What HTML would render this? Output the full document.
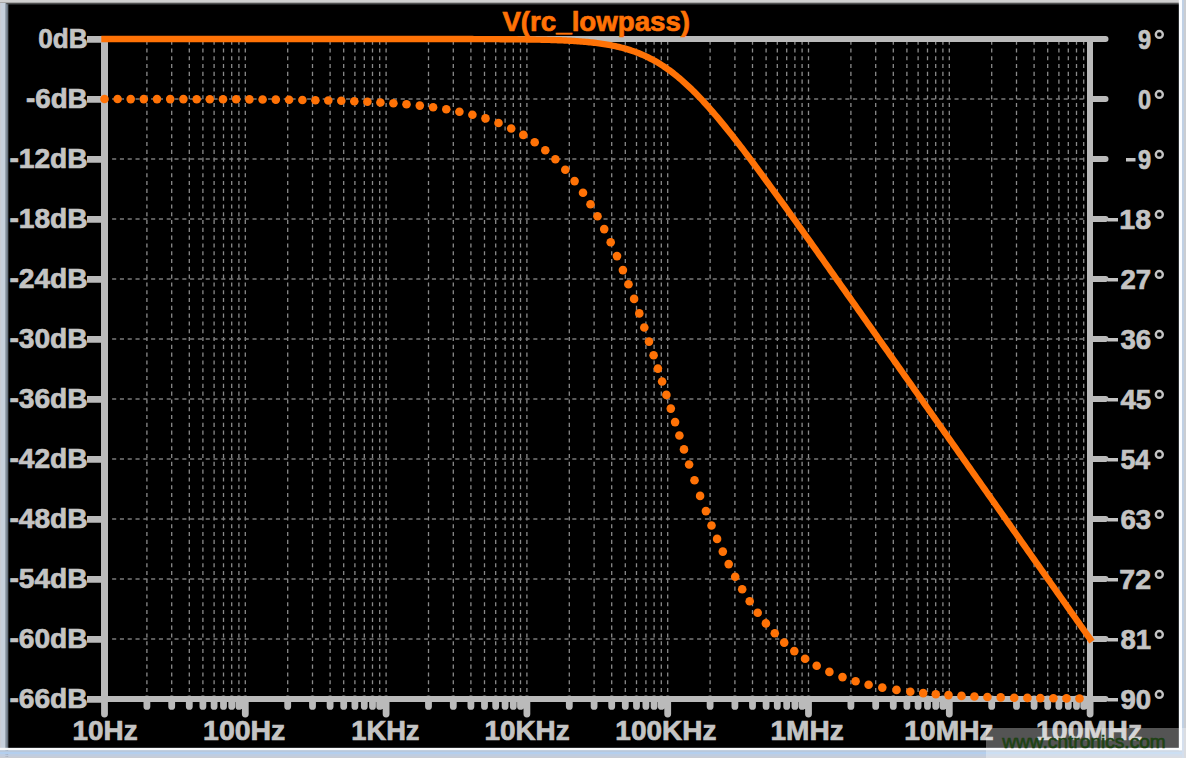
<!DOCTYPE html>
<html><head><meta charset="utf-8"><style>html,body{margin:0;padding:0;width:1186px;height:758px;overflow:hidden;background:#000}</style></head>
<body><svg width="1186" height="758" viewBox="0 0 1186 758" style="position:absolute;left:0;top:0"><rect x="0" y="0" width="1186" height="758" fill="#c6d0dc"/><rect x="0" y="0" width="1.2" height="758" fill="#c8ccd4"/><rect x="5" y="0" width="1.3" height="758" fill="#9aa6b2"/><rect x="6.3" y="0" width="1.9" height="758" fill="#687480"/><rect x="0" y="0" width="1186" height="2" fill="#d0d0d0"/><rect x="0" y="2" width="1186" height="1" fill="#a8a8a8"/><rect x="6.3" y="3" width="1186" height="1.2" fill="#505050"/><rect x="0" y="747.8" width="1186" height="2.5" fill="#f8fafb"/><rect x="0" y="750.3" width="1186" height="1.7" fill="#b8c8dc"/><rect x="0" y="752" width="1186" height="2.5" fill="#b4cfee"/><rect x="0" y="754.5" width="1186" height="2" fill="#c0cce0"/><rect x="0" y="756.5" width="1186" height="1.5" fill="#c8ccd4"/><rect x="1178.8" y="0" width="3.2" height="750.3" fill="#fafcff"/><rect x="1182" y="0" width="2" height="758" fill="#c0d0e4"/><rect x="1184" y="0" width="2" height="758" fill="#cacdd2"/><rect x="8.2" y="4.2" width="1170.6" height="743.6" fill="#000"/><path d="M146.9 40.6V692.5 M171.7 40.6V692.5 M189.3 40.6V692.5 M202.9 40.6V692.5 M214.1 40.6V692.5 M223.5 40.6V692.5 M231.7 40.6V692.5 M238.9 40.6V692.5 M245.3 40.6V692.5 M287.7 40.6V692.5 M312.5 40.6V692.5 M330.1 40.6V692.5 M343.7 40.6V692.5 M354.9 40.6V692.5 M364.3 40.6V692.5 M372.5 40.6V692.5 M379.7 40.6V692.5 M386.1 40.6V692.5 M428.5 40.6V692.5 M453.3 40.6V692.5 M470.9 40.6V692.5 M484.5 40.6V692.5 M495.7 40.6V692.5 M505.1 40.6V692.5 M513.3 40.6V692.5 M520.5 40.6V692.5 M526.9 40.6V692.5 M569.3 40.6V692.5 M594.1 40.6V692.5 M611.7 40.6V692.5 M625.3 40.6V692.5 M636.5 40.6V692.5 M645.9 40.6V692.5 M654.1 40.6V692.5 M661.3 40.6V692.5 M667.7 40.6V692.5 M710.1 40.6V692.5 M734.9 40.6V692.5 M752.5 40.6V692.5 M766.1 40.6V692.5 M777.3 40.6V692.5 M786.7 40.6V692.5 M794.9 40.6V692.5 M802.1 40.6V692.5 M808.5 40.6V692.5 M850.9 40.6V692.5 M875.7 40.6V692.5 M893.3 40.6V692.5 M906.9 40.6V692.5 M918.1 40.6V692.5 M927.5 40.6V692.5 M935.7 40.6V692.5 M942.9 40.6V692.5 M949.3 40.6V692.5 M991.7 40.6V692.5 M1016.5 40.6V692.5 M1034.1 40.6V692.5 M1047.7 40.6V692.5 M1058.9 40.6V692.5 M1068.3 40.6V692.5 M1076.5 40.6V692.5 M1083.7 40.6V692.5" stroke="#8a8a8a" stroke-width="1.3" stroke-dasharray="4.1 3.7" fill="none"/><path d="M112.1 99.0H1087 M112.1 159.0H1087 M112.1 219.0H1087 M112.1 279.0H1087 M112.1 339.0H1087 M112.1 399.0H1087 M112.1 459.0H1087 M112.1 519.0H1087 M112.1 579.0H1087 M112.1 639.0H1087" stroke="#7a7a7a" stroke-width="1.3" stroke-dasharray="4.1 3.7" fill="none"/><path d="M104.5 36V702 M1090 36V702 M101 39H1093 M101 699H1093" stroke="#bababa" stroke-width="6" fill="none"/><path d="M104.5 36V702" stroke="#bababa" stroke-width="7" fill="none"/><path d="M1093 39.0H1105.5 M1093 99.0H1105.5 M1093 159.0H1105.5 M1093 219.0H1105.5 M1093 279.0H1105.5 M1093 339.0H1105.5 M1093 399.0H1105.5 M1093 459.0H1105.5 M1093 519.0H1105.5 M1093 579.0H1105.5 M1093 639.0H1105.5 M1093 699.0H1105.5" stroke="#bababa" stroke-width="6" stroke-linecap="round" fill="none"/><path d="M87 39.4H104 M87 99.4H104 M87 159.4H104 M87 219.4H104 M87 279.4H104 M87 339.4H104 M87 399.4H104 M87 459.4H104 M87 519.4H104 M87 579.4H104 M87 639.4H104 M87 699.4H104" stroke="#bababa" stroke-width="6.6" fill="none"/><path d="M104.5 699V714.1 M146.9 699V706.4 M171.7 699V706.4 M189.3 699V706.4 M202.9 699V706.4 M214.1 699V706.4 M223.5 699V706.4 M231.7 699V706.4 M238.9 699V706.4 M245.3 699V714.1 M287.7 699V706.4 M312.5 699V706.4 M330.1 699V706.4 M343.7 699V706.4 M354.9 699V706.4 M364.3 699V706.4 M372.5 699V706.4 M379.7 699V706.4 M386.1 699V714.1 M428.5 699V706.4 M453.3 699V706.4 M470.9 699V706.4 M484.5 699V706.4 M495.7 699V706.4 M505.1 699V706.4 M513.3 699V706.4 M520.5 699V706.4 M526.9 699V714.1 M569.3 699V706.4 M594.1 699V706.4 M611.7 699V706.4 M625.3 699V706.4 M636.5 699V706.4 M645.9 699V706.4 M654.1 699V706.4 M661.3 699V706.4 M667.7 699V714.1 M710.1 699V706.4 M734.9 699V706.4 M752.5 699V706.4 M766.1 699V706.4 M777.3 699V706.4 M786.7 699V706.4 M794.9 699V706.4 M802.1 699V706.4 M808.5 699V714.1 M850.9 699V706.4 M875.7 699V706.4 M893.3 699V706.4 M906.9 699V706.4 M918.1 699V706.4 M927.5 699V706.4 M935.7 699V706.4 M942.9 699V706.4 M949.3 699V714.1 M991.7 699V706.4 M1016.5 699V706.4 M1034.1 699V706.4 M1047.7 699V706.4 M1058.9 699V706.4 M1068.3 699V706.4 M1076.5 699V706.4 M1083.7 699V706.4 M1090.1 699V714.1" stroke="#bababa" stroke-width="6.8" stroke-linecap="round" fill="none"/><path d="M104.50 39.00 L106.14 39.00 L107.79 39.00 L109.43 39.00 L111.07 39.00 L112.71 39.00 L114.36 39.00 L116.00 39.00 L117.64 39.00 L119.28 39.00 L120.93 39.00 L122.57 39.00 L124.21 39.00 L125.85 39.00 L127.50 39.00 L129.14 39.00 L130.78 39.00 L132.43 39.00 L134.07 39.00 L135.71 39.00 L137.35 39.00 L139.00 39.00 L140.64 39.00 L142.28 39.00 L143.92 39.00 L145.57 39.00 L147.21 39.00 L148.85 39.00 L150.49 39.00 L152.14 39.00 L153.78 39.00 L155.42 39.00 L157.07 39.00 L158.71 39.00 L160.35 39.00 L161.99 39.00 L163.64 39.00 L165.28 39.00 L166.92 39.00 L168.56 39.00 L170.21 39.00 L171.85 39.00 L173.49 39.00 L175.13 39.00 L176.78 39.00 L178.42 39.00 L180.06 39.00 L181.71 39.00 L183.35 39.00 L184.99 39.00 L186.63 39.00 L188.28 39.00 L189.92 39.00 L191.56 39.00 L193.20 39.00 L194.85 39.00 L196.49 39.00 L198.13 39.00 L199.77 39.00 L201.42 39.00 L203.06 39.00 L204.70 39.00 L206.35 39.00 L207.99 39.00 L209.63 39.00 L211.27 39.00 L212.92 39.00 L214.56 39.00 L216.20 39.00 L217.84 39.00 L219.49 39.00 L221.13 39.00 L222.77 39.00 L224.41 39.00 L226.06 39.00 L227.70 39.00 L229.34 39.00 L230.99 39.00 L232.63 39.00 L234.27 39.00 L235.91 39.00 L237.56 39.00 L239.20 39.00 L240.84 39.00 L242.48 39.00 L244.13 39.00 L245.77 39.00 L247.41 39.00 L249.05 39.00 L250.70 39.00 L252.34 39.00 L253.98 39.00 L255.63 39.00 L257.27 39.00 L258.91 39.00 L260.55 39.00 L262.20 39.00 L263.84 39.00 L265.48 39.00 L267.12 39.00 L268.77 39.00 L270.41 39.00 L272.05 39.00 L273.69 39.00 L275.34 39.00 L276.98 39.00 L278.62 39.00 L280.27 39.00 L281.91 39.00 L283.55 39.00 L285.19 39.00 L286.84 39.00 L288.48 39.00 L290.12 39.00 L291.76 39.00 L293.41 39.00 L295.05 39.00 L296.69 39.00 L298.33 39.00 L299.98 39.00 L301.62 39.00 L303.26 39.00 L304.91 39.00 L306.55 39.00 L308.19 39.00 L309.83 39.00 L311.48 39.00 L313.12 39.00 L314.76 39.00 L316.40 39.00 L318.05 39.00 L319.69 39.00 L321.33 39.00 L322.97 39.00 L324.62 39.00 L326.26 39.00 L327.90 39.00 L329.55 39.00 L331.19 39.00 L332.83 39.00 L334.47 39.00 L336.12 39.00 L337.76 39.00 L339.40 39.00 L341.04 39.00 L342.69 39.00 L344.33 39.00 L345.97 39.00 L347.61 39.00 L349.26 39.00 L350.90 39.00 L352.54 39.00 L354.19 39.00 L355.83 39.00 L357.47 39.00 L359.11 39.00 L360.76 39.00 L362.40 39.00 L364.04 39.00 L365.68 39.00 L367.33 39.00 L368.97 39.00 L370.61 39.00 L372.25 39.00 L373.90 39.00 L375.54 39.00 L377.18 39.00 L378.83 39.00 L380.47 39.00 L382.11 39.00 L383.75 39.00 L385.40 39.00 L387.04 39.00 L388.68 39.00 L390.32 39.00 L391.97 39.01 L393.61 39.01 L395.25 39.01 L396.89 39.01 L398.54 39.01 L400.18 39.01 L401.82 39.01 L403.47 39.01 L405.11 39.01 L406.75 39.01 L408.39 39.01 L410.04 39.01 L411.68 39.01 L413.32 39.01 L414.96 39.01 L416.61 39.01 L418.25 39.01 L419.89 39.01 L421.53 39.01 L423.18 39.01 L424.82 39.02 L426.46 39.02 L428.11 39.02 L429.75 39.02 L431.39 39.02 L433.03 39.02 L434.68 39.02 L436.32 39.02 L437.96 39.02 L439.60 39.02 L441.25 39.03 L442.89 39.03 L444.53 39.03 L446.17 39.03 L447.82 39.03 L449.46 39.03 L451.10 39.04 L452.75 39.04 L454.39 39.04 L456.03 39.04 L457.67 39.05 L459.32 39.05 L460.96 39.05 L462.60 39.05 L464.24 39.06 L465.89 39.06 L467.53 39.06 L469.17 39.07 L470.81 39.07 L472.46 39.07 L474.10 39.08 L475.74 39.08 L477.39 39.09 L479.03 39.09 L480.67 39.10 L482.31 39.10 L483.96 39.11 L485.60 39.11 L487.24 39.12 L488.88 39.13 L490.53 39.13 L492.17 39.14 L493.81 39.15 L495.45 39.16 L497.10 39.16 L498.74 39.17 L500.38 39.18 L502.03 39.19 L503.67 39.20 L505.31 39.21 L506.95 39.23 L508.60 39.24 L510.24 39.25 L511.88 39.26 L513.52 39.28 L515.17 39.29 L516.81 39.31 L518.45 39.33 L520.09 39.35 L521.74 39.37 L523.38 39.39 L525.02 39.41 L526.67 39.43 L528.31 39.45 L529.95 39.48 L531.59 39.50 L533.24 39.53 L534.88 39.56 L536.52 39.59 L538.16 39.62 L539.81 39.66 L541.45 39.69 L543.09 39.73 L544.73 39.77 L546.38 39.81 L548.02 39.86 L549.66 39.90 L551.31 39.95 L552.95 40.01 L554.59 40.06 L556.23 40.12 L557.88 40.18 L559.52 40.24 L561.16 40.31 L562.80 40.38 L564.45 40.46 L566.09 40.54 L567.73 40.62 L569.37 40.71 L571.02 40.80 L572.66 40.90 L574.30 41.00 L575.95 41.11 L577.59 41.22 L579.23 41.34 L580.87 41.47 L582.52 41.60 L584.16 41.74 L585.80 41.88 L587.44 42.04 L589.09 42.20 L590.73 42.37 L592.37 42.55 L594.01 42.74 L595.66 42.93 L597.30 43.14 L598.94 43.36 L600.59 43.58 L602.23 43.82 L603.87 44.08 L605.51 44.34 L607.16 44.62 L608.80 44.91 L610.44 45.21 L612.08 45.53 L613.73 45.86 L615.37 46.21 L617.01 46.57 L618.65 46.96 L620.30 47.36 L621.94 47.77 L623.58 48.21 L625.23 48.67 L626.87 49.14 L628.51 49.64 L630.15 50.16 L631.80 50.69 L633.44 51.26 L635.08 51.84 L636.72 52.45 L638.37 53.09 L640.01 53.74 L641.65 54.43 L643.29 55.14 L644.94 55.88 L646.58 56.64 L648.22 57.44 L649.87 58.26 L651.51 59.11 L653.15 59.99 L654.79 60.90 L656.44 61.84 L658.08 62.81 L659.72 63.80 L661.36 64.84 L663.01 65.90 L664.65 66.99 L666.29 68.11 L667.93 69.27 L669.58 70.46 L671.22 71.67 L672.86 72.92 L674.51 74.20 L676.15 75.52 L677.79 76.86 L679.43 78.23 L681.08 79.63 L682.72 81.07 L684.36 82.53 L686.00 84.02 L687.65 85.54 L689.29 87.09 L690.93 88.66 L692.57 90.27 L694.22 91.90 L695.86 93.55 L697.50 95.24 L699.15 96.94 L700.79 98.67 L702.43 100.43 L704.07 102.21 L705.72 104.01 L707.36 105.83 L709.00 107.67 L710.64 109.53 L712.29 111.42 L713.93 113.32 L715.57 115.24 L717.21 117.18 L718.86 119.14 L720.50 121.11 L722.14 123.10 L723.79 125.10 L725.43 127.12 L727.07 129.15 L728.71 131.20 L730.36 133.26 L732.00 135.34 L733.64 137.42 L735.28 139.52 L736.93 141.63 L738.57 143.75 L740.21 145.87 L741.85 148.01 L743.50 150.16 L745.14 152.32 L746.78 154.49 L748.43 156.66 L750.07 158.84 L751.71 161.03 L753.35 163.23 L755.00 165.43 L756.64 167.64 L758.28 169.86 L759.92 172.08 L761.57 174.30 L763.21 176.54 L764.85 178.77 L766.49 181.02 L768.14 183.26 L769.78 185.51 L771.42 187.77 L773.07 190.03 L774.71 192.29 L776.35 194.56 L777.99 196.83 L779.64 199.10 L781.28 201.38 L782.92 203.66 L784.56 205.94 L786.21 208.22 L787.85 210.51 L789.49 212.80 L791.13 215.09 L792.78 217.39 L794.42 219.68 L796.06 221.98 L797.71 224.28 L799.35 226.58 L800.99 228.89 L802.63 231.19 L804.28 233.50 L805.92 235.80 L807.56 238.11 L809.20 240.42 L810.85 242.73 L812.49 245.05 L814.13 247.36 L815.77 249.67 L817.42 251.99 L819.06 254.31 L820.70 256.62 L822.35 258.94 L823.99 261.26 L825.63 263.58 L827.27 265.90 L828.92 268.22 L830.56 270.54 L832.20 272.87 L833.84 275.19 L835.49 277.51 L837.13 279.84 L838.77 282.16 L840.41 284.49 L842.06 286.81 L843.70 289.14 L845.34 291.46 L846.99 293.79 L848.63 296.12 L850.27 298.44 L851.91 300.77 L853.56 303.10 L855.20 305.43 L856.84 307.76 L858.48 310.08 L860.13 312.41 L861.77 314.74 L863.41 317.07 L865.05 319.40 L866.70 321.73 L868.34 324.06 L869.98 326.39 L871.63 328.72 L873.27 331.05 L874.91 333.38 L876.55 335.71 L878.20 338.04 L879.84 340.38 L881.48 342.71 L883.12 345.04 L884.77 347.37 L886.41 349.70 L888.05 352.03 L889.69 354.36 L891.34 356.70 L892.98 359.03 L894.62 361.36 L896.27 363.69 L897.91 366.02 L899.55 368.36 L901.19 370.69 L902.84 373.02 L904.48 375.35 L906.12 377.68 L907.76 380.02 L909.41 382.35 L911.05 384.68 L912.69 387.01 L914.33 389.35 L915.98 391.68 L917.62 394.01 L919.26 396.34 L920.91 398.68 L922.55 401.01 L924.19 403.34 L925.83 405.68 L927.48 408.01 L929.12 410.34 L930.76 412.67 L932.40 415.01 L934.05 417.34 L935.69 419.67 L937.33 422.01 L938.97 424.34 L940.62 426.67 L942.26 429.01 L943.90 431.34 L945.55 433.67 L947.19 436.00 L948.83 438.34 L950.47 440.67 L952.12 443.00 L953.76 445.34 L955.40 447.67 L957.04 450.00 L958.69 452.34 L960.33 454.67 L961.97 457.00 L963.61 459.34 L965.26 461.67 L966.90 464.00 L968.54 466.34 L970.19 468.67 L971.83 471.00 L973.47 473.34 L975.11 475.67 L976.76 478.00 L978.40 480.34 L980.04 482.67 L981.68 485.00 L983.33 487.33 L984.97 489.67 L986.61 492.00 L988.25 494.33 L989.90 496.67 L991.54 499.00 L993.18 501.33 L994.83 503.67 L996.47 506.00 L998.11 508.33 L999.75 510.67 L1001.40 513.00 L1003.04 515.33 L1004.68 517.67 L1006.32 520.00 L1007.97 522.33 L1009.61 524.67 L1011.25 527.00 L1012.89 529.33 L1014.54 531.67 L1016.18 534.00 L1017.82 536.33 L1019.47 538.67 L1021.11 541.00 L1022.75 543.33 L1024.39 545.67 L1026.04 548.00 L1027.68 550.33 L1029.32 552.67 L1030.96 555.00 L1032.61 557.33 L1034.25 559.67 L1035.89 562.00 L1037.53 564.33 L1039.18 566.67 L1040.82 569.00 L1042.46 571.33 L1044.11 573.67 L1045.75 576.00 L1047.39 578.33 L1049.03 580.67 L1050.68 583.00 L1052.32 585.33 L1053.96 587.67 L1055.60 590.00 L1057.25 592.33 L1058.89 594.67 L1060.53 597.00 L1062.17 599.33 L1063.82 601.67 L1065.46 604.00 L1067.10 606.33 L1068.75 608.67 L1070.39 611.00 L1072.03 613.33 L1073.67 615.67 L1075.32 618.00 L1076.96 620.33 L1078.60 622.67 L1080.24 625.00 L1081.89 627.33 L1083.53 629.67 L1085.17 632.00 L1086.81 634.33 L1088.46 636.67 L1090.10 639.00" stroke="#ff7206" stroke-width="6.4" fill="none" stroke-linecap="square" stroke-linejoin="round"/><g fill="#ff7206"><circle cx="104.5" cy="99.0" r="4.3"/><circle cx="117.6" cy="99.0" r="4.3"/><circle cx="130.7" cy="99.1" r="4.3"/><circle cx="143.8" cy="99.1" r="4.3"/><circle cx="157.0" cy="99.1" r="4.3"/><circle cx="170.2" cy="99.1" r="4.3"/><circle cx="183.4" cy="99.1" r="4.3"/><circle cx="196.7" cy="99.2" r="4.3"/><circle cx="209.8" cy="99.2" r="4.3"/><circle cx="223.0" cy="99.3" r="4.3"/><circle cx="236.2" cy="99.3" r="4.3"/><circle cx="249.4" cy="99.4" r="4.3"/><circle cx="262.6" cy="99.5" r="4.3"/><circle cx="275.8" cy="99.6" r="4.3"/><circle cx="289.1" cy="99.8" r="4.3"/><circle cx="302.4" cy="100.0" r="4.3"/><circle cx="315.4" cy="100.2" r="4.3"/><circle cx="328.3" cy="100.5" r="4.3"/><circle cx="341.3" cy="100.8" r="4.3"/><circle cx="354.3" cy="101.3" r="4.3"/><circle cx="367.4" cy="101.8" r="4.3"/><circle cx="380.4" cy="102.5" r="4.3"/><circle cx="393.4" cy="103.3" r="4.3"/><circle cx="406.5" cy="104.3" r="4.3"/><circle cx="419.8" cy="105.6" r="4.3"/><circle cx="433.1" cy="107.2" r="4.3"/><circle cx="446.3" cy="109.2" r="4.3"/><circle cx="459.4" cy="111.7" r="4.3"/><circle cx="472.4" cy="114.7" r="4.3"/><circle cx="485.5" cy="118.4" r="4.3"/><circle cx="498.5" cy="123.0" r="4.3"/><circle cx="511.2" cy="128.5" r="4.3"/><circle cx="523.3" cy="134.9" r="4.3"/><circle cx="534.7" cy="142.2" r="4.3"/><circle cx="545.3" cy="150.3" r="4.3"/><circle cx="555.4" cy="159.3" r="4.3"/><circle cx="565.3" cy="169.7" r="4.3"/><circle cx="574.6" cy="181.1" r="4.3"/><circle cx="583.0" cy="192.7" r="4.3"/><circle cx="590.5" cy="204.3" r="4.3"/><circle cx="597.5" cy="216.3" r="4.3"/><circle cx="604.2" cy="229.1" r="4.3"/><circle cx="610.7" cy="242.3" r="4.3"/><circle cx="617.0" cy="256.1" r="4.3"/><circle cx="622.9" cy="270.1" r="4.3"/><circle cx="628.5" cy="284.3" r="4.3"/><circle cx="634.1" cy="298.9" r="4.3"/><circle cx="639.3" cy="313.4" r="4.3"/><circle cx="644.3" cy="327.5" r="4.3"/><circle cx="649.0" cy="341.6" r="4.3"/><circle cx="653.6" cy="355.3" r="4.3"/><circle cx="657.9" cy="368.6" r="4.3"/><circle cx="662.1" cy="381.5" r="4.3"/><circle cx="666.4" cy="394.9" r="4.3"/><circle cx="670.8" cy="408.6" r="4.3"/><circle cx="675.1" cy="422.1" r="4.3"/><circle cx="679.4" cy="435.5" r="4.3"/><circle cx="684.0" cy="449.4" r="4.3"/><circle cx="689.1" cy="464.5" r="4.3"/><circle cx="694.5" cy="480.2" r="4.3"/><circle cx="700.1" cy="495.9" r="4.3"/><circle cx="705.9" cy="511.1" r="4.3"/><circle cx="711.5" cy="525.5" r="4.3"/><circle cx="717.1" cy="538.9" r="4.3"/><circle cx="722.8" cy="551.6" r="4.3"/><circle cx="728.7" cy="564.1" r="4.3"/><circle cx="735.2" cy="576.7" r="4.3"/><circle cx="742.2" cy="589.2" r="4.3"/><circle cx="749.7" cy="601.3" r="4.3"/><circle cx="757.7" cy="612.8" r="4.3"/><circle cx="765.9" cy="623.4" r="4.3"/><circle cx="774.8" cy="633.3" r="4.3"/><circle cx="784.2" cy="642.6" r="4.3"/><circle cx="794.3" cy="651.1" r="4.3"/><circle cx="805.1" cy="658.7" r="4.3"/><circle cx="816.7" cy="665.7" r="4.3"/><circle cx="829.4" cy="671.9" r="4.3"/><circle cx="842.5" cy="677.1" r="4.3"/><circle cx="855.6" cy="681.3" r="4.3"/><circle cx="868.6" cy="684.7" r="4.3"/><circle cx="882.3" cy="687.6" r="4.3"/><circle cx="896.5" cy="689.9" r="4.3"/><circle cx="910.3" cy="691.8" r="4.3"/><circle cx="923.2" cy="693.1" r="4.3"/><circle cx="935.8" cy="694.2" r="4.3"/><circle cx="948.5" cy="695.1" r="4.3"/><circle cx="961.5" cy="695.9" r="4.3"/><circle cx="974.4" cy="696.5" r="4.3"/><circle cx="987.4" cy="697.0" r="4.3"/><circle cx="1000.7" cy="697.4" r="4.3"/><circle cx="1014.2" cy="697.7" r="4.3"/><circle cx="1027.4" cy="697.9" r="4.3"/><circle cx="1040.3" cy="698.1" r="4.3"/><circle cx="1053.4" cy="698.3" r="4.3"/><circle cx="1066.5" cy="698.4" r="4.3"/><circle cx="1079.5" cy="698.5" r="4.3"/></g><g font-family="Liberation Sans, sans-serif" font-weight="bold" font-size="27" fill="#c4c4c4" stroke="#c4c4c4" stroke-width="0.7"><text x="38.20" y="48.40" textLength="49.38" lengthAdjust="spacingAndGlyphs">0dB</text><text x="26.00" y="108.40" textLength="61.63" lengthAdjust="spacingAndGlyphs">-6dB</text><text x="9.40" y="168.40" textLength="78.26" lengthAdjust="spacingAndGlyphs">-12dB</text><text x="9.40" y="228.40" textLength="78.26" lengthAdjust="spacingAndGlyphs">-18dB</text><text x="9.40" y="288.40" textLength="78.26" lengthAdjust="spacingAndGlyphs">-24dB</text><text x="9.40" y="348.40" textLength="78.26" lengthAdjust="spacingAndGlyphs">-30dB</text><text x="9.40" y="408.40" textLength="78.26" lengthAdjust="spacingAndGlyphs">-36dB</text><text x="9.40" y="468.40" textLength="78.26" lengthAdjust="spacingAndGlyphs">-42dB</text><text x="9.40" y="528.40" textLength="78.26" lengthAdjust="spacingAndGlyphs">-48dB</text><text x="9.40" y="588.40" textLength="78.26" lengthAdjust="spacingAndGlyphs">-54dB</text><text x="9.40" y="648.40" textLength="78.26" lengthAdjust="spacingAndGlyphs">-60dB</text><text x="9.40" y="708.40" textLength="78.26" lengthAdjust="spacingAndGlyphs">-66dB</text><text x="1137.90" y="48.50" textLength="13.13" lengthAdjust="spacingAndGlyphs">9</text><ellipse cx="1159.3" cy="34.4" rx="3.5" ry="3.4" fill="none" stroke="#c4c4c4" stroke-width="2.4"/><text x="1137.90" y="108.50" textLength="13.13" lengthAdjust="spacingAndGlyphs">0</text><ellipse cx="1159.3" cy="94.4" rx="3.5" ry="3.4" fill="none" stroke="#c4c4c4" stroke-width="2.4"/><text x="1137.90" y="168.50" textLength="13.13" lengthAdjust="spacingAndGlyphs">9</text><ellipse cx="1159.3" cy="154.4" rx="3.5" ry="3.4" fill="none" stroke="#c4c4c4" stroke-width="2.4"/><text x="1119.34" y="228.50" textLength="31.70" lengthAdjust="spacingAndGlyphs">18</text><ellipse cx="1159.3" cy="214.4" rx="3.5" ry="3.4" fill="none" stroke="#c4c4c4" stroke-width="2.4"/><text x="1120.40" y="288.50" textLength="30.65" lengthAdjust="spacingAndGlyphs">27</text><ellipse cx="1159.3" cy="274.4" rx="3.5" ry="3.4" fill="none" stroke="#c4c4c4" stroke-width="2.4"/><text x="1120.40" y="348.50" textLength="30.65" lengthAdjust="spacingAndGlyphs">36</text><ellipse cx="1159.3" cy="334.4" rx="3.5" ry="3.4" fill="none" stroke="#c4c4c4" stroke-width="2.4"/><text x="1120.40" y="408.50" textLength="30.65" lengthAdjust="spacingAndGlyphs">45</text><ellipse cx="1159.3" cy="394.4" rx="3.5" ry="3.4" fill="none" stroke="#c4c4c4" stroke-width="2.4"/><text x="1120.40" y="468.50" textLength="29.66" lengthAdjust="spacingAndGlyphs">54</text><ellipse cx="1159.3" cy="454.4" rx="3.5" ry="3.4" fill="none" stroke="#c4c4c4" stroke-width="2.4"/><text x="1120.40" y="528.50" textLength="30.65" lengthAdjust="spacingAndGlyphs">63</text><ellipse cx="1159.3" cy="514.4" rx="3.5" ry="3.4" fill="none" stroke="#c4c4c4" stroke-width="2.4"/><text x="1119.34" y="588.50" textLength="31.70" lengthAdjust="spacingAndGlyphs">72</text><ellipse cx="1159.3" cy="574.4" rx="3.5" ry="3.4" fill="none" stroke="#c4c4c4" stroke-width="2.4"/><text x="1120.40" y="648.50" textLength="30.65" lengthAdjust="spacingAndGlyphs">81</text><ellipse cx="1159.3" cy="634.4" rx="3.5" ry="3.4" fill="none" stroke="#c4c4c4" stroke-width="2.4"/><text x="1120.40" y="708.50" textLength="30.65" lengthAdjust="spacingAndGlyphs">90</text><ellipse cx="1159.3" cy="694.4" rx="3.5" ry="3.4" fill="none" stroke="#c4c4c4" stroke-width="2.4"/><text x="72.57" y="739.50" textLength="65.06" lengthAdjust="spacingAndGlyphs">10Hz</text><text x="203.05" y="739.50" textLength="82.30" lengthAdjust="spacingAndGlyphs">100Hz</text><text x="351.29" y="739.50" textLength="68.23" lengthAdjust="spacingAndGlyphs">1KHz</text><text x="484.47" y="739.50" textLength="85.18" lengthAdjust="spacingAndGlyphs">10KHz</text><text x="615.36" y="739.50" textLength="101.00" lengthAdjust="spacingAndGlyphs">100KHz</text><text x="770.46" y="739.50" textLength="73.27" lengthAdjust="spacingAndGlyphs">1MHz</text><text x="904.36" y="739.50" textLength="89.20" lengthAdjust="spacingAndGlyphs">10MHz</text><text x="1035.94" y="739.50" textLength="106.34" lengthAdjust="spacingAndGlyphs">100MHz</text></g><path d="M1126 159.8H1135.5 M1108 219.8H1118.0 M1108 279.8H1118.0 M1108 339.8H1118.0 M1108 399.8H1118.0 M1108 459.8H1118.0 M1108 519.8H1118.0 M1108 579.8H1118.0 M1108 639.8H1118.0 M1108 699.8H1118.0" stroke="#c4c4c4" stroke-width="3.6" fill="none"/><g font-family="Liberation Sans, sans-serif" font-weight="bold" font-size="27" fill="#ff7206" stroke="#ff7206" stroke-width="0.7"><text x="502.40" y="30.90" textLength="187.71" lengthAdjust="spacingAndGlyphs">V(rc_lowpass)</text></g><rect x="986" y="728" width="200" height="30" fill="#ffffff" fill-opacity="0.33"/><text x="1002.20" y="747.6" textLength="163.58" lengthAdjust="spacingAndGlyphs" font-family="Liberation Sans, sans-serif" font-size="17.8" fill="#1e4214" stroke="#1e4214" stroke-width="0.6">www.cntronics.com</text></svg></body></html>
